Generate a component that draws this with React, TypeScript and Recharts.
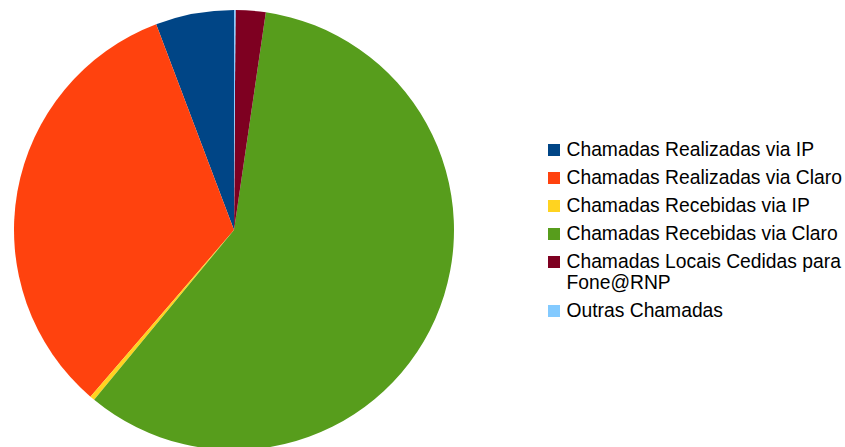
import React from 'react';
import { PieChart, Pie, Cell, Legend } from 'recharts';

const categories = [
  'Chamadas Realizadas via IP',
  'Chamadas Realizadas via Claro',
  'Chamadas Recebidas via IP',
  'Chamadas Recebidas via Claro',
  'Chamadas Locais Cedidas para Fone@RNP',
  'Outras Chamadas',
];
const legendLines = [
  ['Chamadas Realizadas via IP'],
  ['Chamadas Realizadas via Claro'],
  ['Chamadas Recebidas via IP'],
  ['Chamadas Recebidas via Claro'],
  ['Chamadas Locais Cedidas para', 'Fone@RNP'],
  ['Outras Chamadas'],
];
const values = [5.75, 32.9, 0.35, 58.6, 2.2, 0.11];
const colors = ['#004586', '#ff420e', '#ffd320', '#579d1c', '#7e0021', '#83caff'];

const data = categories.map((name, i) => ({ name, value: values[i] }));

const renderLegend = () => (
  <div style={{ fontFamily: '"Liberation Sans", Arial, sans-serif', fontSize: 19.3, color: '#000' }}>
    {legendLines.map((lines, i) => (
      <div key={i} style={{ position: 'relative', paddingLeft: 18.5, lineHeight: '21.7px', marginBottom: 6.3, whiteSpace: 'nowrap' }}>
        <span style={{ position: 'absolute', left: 0, top: 5, width: 12, height: 12, background: colors[i] }} />
        {lines.map((l, j) => (
          <div key={j}>{l}</div>
        ))}
      </div>
    ))}
  </div>
);

export default function App() {
  return (
    <div style={{ position: 'absolute', left: 0, top: 0, width: 845, height: 447, background: '#fff', overflow: 'hidden' }}>
      <PieChart width={845} height={447} margin={{ top: 0, right: 0, bottom: 0, left: 0 }}>
        <Pie
          data={data}
          dataKey="value"
          nameKey="name"
          cx={234}
          cy={230}
          outerRadius={220}
          startAngle={90}
          endAngle={450}
          stroke="none"
          isAnimationActive={false}
        >
          {data.map((d, i) => (
            <Cell key={d.name} fill={colors[i]} />
          ))}
        </Pie>
        <Legend
          content={renderLegend}
          wrapperStyle={{ position: 'absolute', left: 548, top: 138.6, width: 297, margin: 0 }}
        />
      </PieChart>
    </div>
  );
}
